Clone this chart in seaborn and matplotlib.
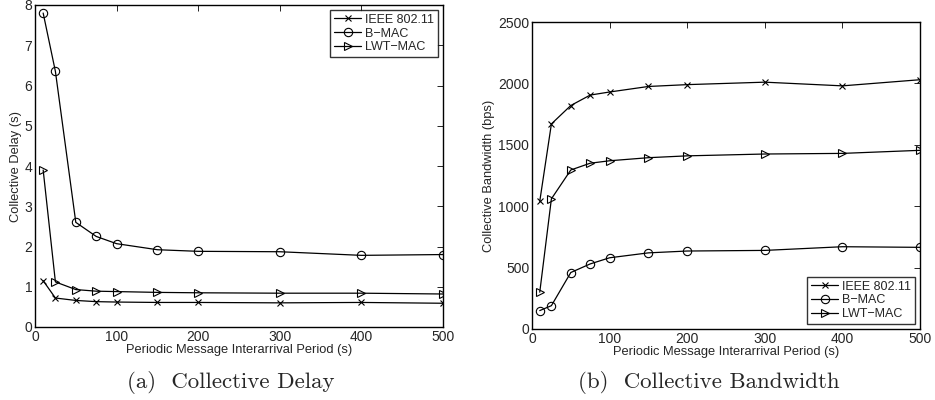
import matplotlib
matplotlib.use("Agg")
import matplotlib.pyplot as plt
import seaborn as sns
import pandas as pd

sns.set_theme(style="white")
plt.rcParams['font.family'] = ['Liberation Sans', 'DejaVu Sans']

periods = [10, 25, 50, 75, 100, 150, 200, 300, 400, 500]
series_names = ["IEEE 802.11", "B\u2212MAC", "LWT\u2212MAC"]
markers = ["x", "o", ">"]

delay_ieee = [1.15, 0.72, 0.66, 0.63, 0.62, 0.61, 0.61, 0.60, 0.61, 0.59]
delay_bmac = [7.8, 6.35, 2.6, 2.25, 2.07, 1.92, 1.88, 1.87, 1.78, 1.80]
delay_lwt = [3.9, 1.12, 0.93, 0.89, 0.88, 0.86, 0.85, 0.84, 0.84, 0.82]

bw_ieee = [1040, 1670, 1820, 1905, 1930, 1975, 1990, 2010, 1980, 2030]
bw_bmac = [150, 190, 460, 530, 580, 620, 635, 640, 670, 665]
bw_lwt = [300, 1060, 1295, 1350, 1370, 1395, 1410, 1425, 1430, 1455]

xlabel = "Periodic Message Interarrival Period (s)"
captions = ["(a)  Collective Delay", "(b)  Collective Bandwidth"]

fig = plt.figure(figsize=(9.35, 4.0), dpi=100)
ax1 = fig.add_axes([35/935, 1-327/400, (443-35)/935, (327-5)/400])
ax2 = fig.add_axes([532/935, 1-329/400, (920-532)/935, (329-22)/400])


def draw(ax, data, ylabel, ylim, yticks, legend_loc):
    for name, vals, m in zip(series_names, data, markers):
        df = pd.DataFrame({"x": periods, "y": vals})
        sns.lineplot(data=df, x="x", y="y", ax=ax, color="black", lw=0.9,
                     marker=m, markersize=6 if m != "x" else 4,
                     markerfacecolor="none", markeredgecolor="black",
                     markeredgewidth=0.8, label=name)
    ax.set_xlim(0, 500)
    ax.set_ylim(*ylim)
    ax.set_xticks([0, 100, 200, 300, 400, 500])
    ax.set_yticks(yticks)
    ax.tick_params(direction="in", top=True, right=True, length=4,
                   width=0.6, labelsize=10, pad=2, color="black")
    for s in ax.spines.values():
        s.set_color("black")
        s.set_linewidth(1.0)
    ax.set_xlabel(xlabel, fontsize=9.3, labelpad=0)
    ax.set_ylabel(ylabel, fontsize=9.3, labelpad=2)
    leg = ax.legend(loc=legend_loc, fontsize=9, frameon=True, fancybox=False,
                    edgecolor="black", handlelength=2.2, handletextpad=0.3,
                    borderpad=0.3, labelspacing=0.15, borderaxespad=0.4)
    leg.get_frame().set_linewidth(1.0)


draw(ax1, [delay_ieee, delay_bmac, delay_lwt], "Collective Delay (s)",
     (0, 8), list(range(0, 9)), "upper right")
draw(ax2, [bw_ieee, bw_bmac, bw_lwt], "Collective Bandwidth (bps)",
     (0, 2500), [0, 500, 1000, 1500, 2000, 2500], "lower right")

fig.text(231/935, 1-382/400, captions[0], ha="center", va="center",
         fontsize=16.5, family="cmr10")
fig.text(709/935, 1-382/400, captions[1], ha="center", va="center",
         fontsize=16.5, family="cmr10")

fig.savefig("out.png", dpi=100)
